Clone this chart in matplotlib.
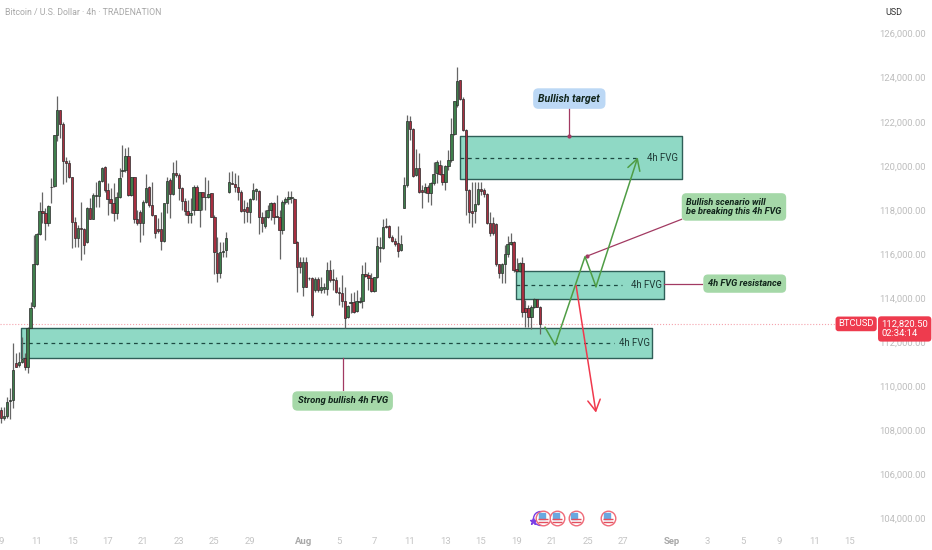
import numpy as np
import matplotlib
matplotlib.use('Agg')
import matplotlib.pyplot as plt
from matplotlib.transforms import offset_copy

plt.rcParams['font.family'] = ['Roboto', 'DejaVu Sans']

# 4h candles
opens = [108910, 108530, 108640, 109340, 109370, 111060, 110960, 111110, 111260, 110850,
         112650, 113630, 115540, 116890, 117960, 117840, 117420, 119020, 119080, 121400,
         122530, 121900, 120230, 120140, 119470, 117450, 116710, 117160, 117130, 116550,
         118080, 117600, 118630, 118630, 119320, 119930, 118900, 118480, 118320, 117870,
         118570, 119780, 119810, 120460, 118670, 119470, 117570, 117920, 117390, 118340,
         119020, 118200, 117760, 117110, 117110, 116600, 118290, 119350, 118700, 119690,
         119580, 118970, 118410, 117960, 117750, 117990, 119050, 117990, 118790, 118600,
         118570, 118750, 117690, 116050, 115120, 116100, 116180, 118790, 119230, 119170,
         119050, 118820, 118020, 118110, 117920, 118480, 118870, 118870, 117660, 117270,
         117690, 118000, 118320, 117720, 117690, 117080, 118370, 118480, 118520, 118480,
         116550, 115650, 114510, 115650, 114920, 114920, 114360, 114860, 114360, 114420,
         114420, 115270, 114840, 114810, 114270, 114210, 113880, 113120, 113750, 113800,
         113420, 113830, 113880, 115070, 115040, 114890, 114330, 114930, 116250, 116250,
         117270, 117270, 116780, 116600, 116480, 116180, 118070, 119110, 122020, 121650,
         119580, 119880, 118900, 118820, 119020, 118780, 119200, 119660, 120020, 119630,
         119280, 119990, 120260, 121440, 122760, 123890, 123010, 121620, 118900, 117960,
         117960, 118260, 118930, 118900, 118700, 117390, 117390, 117360, 115530, 115150,
         115530, 115980, 116450, 116550, 115300, 115240, 115600, 113530, 113530, 113150,
         113600, 113940, 113600]
highs = [109060, 109060, 109520, 109900, 111970, 111480, 111560, 112240, 111480, 112700,
         113830, 116860, 116930, 118370, 118790, 118070, 118200, 119430, 121400, 123180,
         122530, 122000, 120410, 120260, 119500, 117690, 117310, 118370, 117160, 118140,
         118520, 118750, 119280, 119350, 119930, 119990, 119200, 118970, 119200, 118820,
         119880, 120940, 120820, 120840, 119500, 119470, 118000, 118000, 118450, 119630,
         119080, 119250, 117760, 117610, 117920, 118320, 119500, 119430, 120190, 120260,
         119660, 119050, 118520, 118450, 118520, 119130, 119130, 118820, 118820, 119500,
         119350, 118780, 117760, 116780, 116550, 116550, 117010, 119730, 119760, 119660,
         119580, 118900, 118450, 118370, 118520, 119200, 118970, 118900, 117920, 118000,
         118220, 118370, 118370, 118670, 118000, 118450, 118570, 118870, 118870, 118520,
         116600, 115870, 115870, 115870, 114960, 114960, 114960, 114960, 114960, 114660,
         115650, 115720, 115300, 114960, 114510, 115040, 114510, 113680, 114210, 114280,
         114360, 114030, 115490, 115650, 115190, 115120, 114960, 116780, 116780, 117570,
         117610, 117310, 116860, 116710, 117270, 116860, 119470, 122300, 122260, 121700,
         120750, 120560, 119130, 119230, 119130, 119280, 120190, 120260, 120260, 120030,
         120030, 120710, 122150, 122950, 124470, 123890, 123140, 121650, 118930, 119280,
         119280, 119280, 119280, 118970, 118750, 117920, 117690, 117390, 115530, 115570,
         116400, 116810, 116960, 116580, 115800, 115650, 115840, 113910, 113680, 113680,
         113980, 113940, 113630]
lows = [108340, 108460, 108530, 108490, 108990, 110850, 110880, 111060, 110730, 110580,
        112620, 113530, 115490, 116860, 117390, 116630, 117280, 118290, 119050, 121140,
        121240, 119170, 119280, 119430, 116250, 116330, 116330, 115720, 116000, 116480,
        117570, 117570, 118140, 118140, 119280, 118820, 117760, 117840, 117510, 117570,
        118520, 119500, 119730, 118630, 118630, 117390, 117310, 116520, 116860, 118290,
        118140, 117720, 116710, 116930, 116180, 116550, 117870, 117610, 118670, 119500,
        118450, 118000, 117760, 117390, 117390, 117760, 117990, 117240, 117990, 117990,
        118520, 117690, 115090, 114740, 114890, 115870, 115870, 118750, 119170, 118820,
        118450, 117920, 117390, 117460, 117420, 118450, 118450, 116900, 117010, 117160,
        117610, 117540, 117360, 117690, 115770, 116900, 118260, 118260, 118290, 116480,
        114280, 115120, 114090, 114510, 114810, 113150, 114280, 114280, 114210, 114210,
        114130, 114740, 114360, 114210, 113680, 113600, 112620, 113070, 113300, 113330,
        113380, 113750, 113530, 114960, 114360, 114280, 114280, 114890, 115650, 116210,
        117160, 116710, 116550, 116360, 115870, 116150, 118070, 119050, 121170, 119500,
        119530, 118780, 118070, 118750, 118370, 118220, 119130, 119200, 119580, 119130,
        118900, 119810, 120190, 121400, 122680, 122980, 121590, 117760, 117390, 117240,
        117390, 118220, 118670, 118600, 117360, 116810, 116860, 115450, 114890, 114660,
        114660, 115870, 116400, 115190, 115160, 115190, 113150, 112700, 112700, 112580,
        113530, 113570, 112360]
closes = [108530, 108640, 109290, 109370, 110730, 110880, 111110, 111230, 110850, 112650,
          113530, 115540, 116890, 117960, 117840, 117420, 118170, 119050, 121400, 122530,
          121900, 120230, 120140, 119470, 117450, 116710, 117160, 117130, 116400, 118080,
          117600, 118670, 118670, 119320, 119910, 118900, 118480, 118320, 117870, 118570,
          119440, 119810, 120460, 118670, 119470, 117570, 117390, 117390, 118340, 118990,
          118200, 117760, 116960, 117050, 116600, 118290, 119320, 118700, 119690, 119580,
          118970, 118410, 117960, 117750, 117870, 119050, 117990, 118790, 118570, 118570,
          118700, 117690, 116100, 115120, 116100, 116150, 116740, 119250, 119170, 119050,
          118820, 117960, 117960, 117920, 118480, 118900, 118930, 117690, 117420, 117690,
          118000, 118320, 117690, 117690, 117080, 118370, 118480, 118570, 118600, 116480,
          115390, 115390, 115650, 114510, 114890, 113230, 114840, 114360, 114480, 114480,
          115270, 114810, 114810, 114280, 114210, 113880, 113070, 113630, 113800, 113380,
          113880, 113880, 115070, 115000, 114890, 114330, 114930, 116360, 116330, 117240,
          117210, 116780, 116600, 116430, 116150, 116430, 119110, 122050, 121650, 119530,
          119880, 118790, 118790, 119020, 118780, 119230, 119630, 120150, 119630, 119280,
          119990, 120260, 121430, 122950, 123860, 123010, 121620, 118900, 117920, 117870,
          118260, 118930, 118870, 118700, 117390, 116930, 116960, 115530, 115120, 115530,
          115980, 116430, 116550, 115270, 115210, 115600, 113350, 113350, 113150, 113600,
          113940, 113600, 112820]

last_price = 112820.50
price_ticks = list(range(104000, 127000, 2000))

# time axis labels
date_labels = ['9', '11', '15', '17', '21', '23', '25', '29', 'Aug', '5', '7', '11', '13', '15',
               '19', '21', '25', '27', 'Sep', '3', '5', '9', '11', '15']
date_pos = [0, 12, 24, 36, 48, 60, 72, 84, 102, 114, 126, 138, 150, 162, 174, 186, 198, 210,
            226.5, 238.5, 250.5, 262.5, 274.5, 286.5]

# 4h FVG zones
zone_left = [6.8, 173.8, 154.9]
zone_right = [219.7, 223.8, 229.8]
zone_top = [112650, 115240, 121340]
zone_bottom = [111260, 113950, 119400]
zone_mid = [111950, 114590, 120370]
zone_dash_end = [207, 209.5, 215.5]
zone_text_x = [218.9, 223, 228.6]

# scenario paths
bull_x = [183.6, 187, 197.1, 200.8, 214.9]
bull_y = [112666, 111865, 115874, 114512, 120383]
bear_x = [194.1, 200.8]
bear_y = [114558, 108793]

event_x = [182.8, 187.8, 193.9, 204.9]
event_y = 104000

fig = plt.figure(figsize=(9.32, 5.5), dpi=100)
ax = fig.add_axes([0, 19 / 550, 878 / 932, 531 / 550])
ax.set_xlim(-0.34, 295.98)
ax.set_ylim(103418, 127525)

for s in ax.spines.values():
    s.set_visible(False)

ax.yaxis.tick_right()
ax.set_yticks(price_ticks)
ax.set_yticklabels(['{:,.2f}'.format(p) for p in price_ticks])
ax.tick_params(axis='y', length=0, pad=1, labelsize=6.8, labelcolor='#bdbdbd')
ax.set_xticks(date_pos)
ax.set_xticklabels(date_labels)
ax.tick_params(axis='x', length=0, pad=4.5, labelsize=6.8, labelcolor='#c4c4c4')
for lab in ax.get_xticklabels():
    if lab.get_text() in ('Aug', 'Sep'):
        lab.set_color('#a8a8a8')
        lab.set_fontweight('bold')

# zones go under the candles
for i in range(3):
    ax.fill_between([zone_left[i], zone_right[i]], zone_bottom[i], zone_top[i],
                    facecolor='#8fd9c5', edgecolor='#2f5f58', linewidth=1, zorder=1)
    ax.plot([zone_left[i], zone_dash_end[i]], [zone_mid[i], zone_mid[i]],
            color='#1d4a42', lw=0.9, ls=(0, (3, 3)), zorder=1.5)
    ax.text(zone_text_x[i], zone_mid[i], '4h FVG', ha='right', va='center',
            fontsize=6.9, color='#1f3a36', zorder=6)

ax.axhline(last_price, xmax=837 / 878, color='#f5a3ad', lw=0.8, ls=':', zorder=1.8)

# candles
x = np.arange(len(opens))
o = np.array(opens)
c = np.array(closes)
colors = ['#3f7f4c' if c[i] >= o[i] else '#a72f40' for i in range(len(o))]
ax.vlines(x, lows, highs, color='#666666', lw=0.9, zorder=2)
ax.bar(x, np.abs(c - o), bottom=np.minimum(o, c), width=0.8, color=colors,
       edgecolor='#2a2a2a', linewidth=0.5, zorder=3)

# connector lines from the notes
link = '#a23a62'
ax.plot([191.8, 191.8], [122607, 121351], color=link, lw=0.9, zorder=4)
ax.plot([191.8], [121351], marker='o', ms=2, color=link, zorder=4)
ax.plot([229.7, 197.9], [117569, 115904], color=link, lw=0.9, zorder=4)
ax.plot([197.9], [115904], marker='o', ms=2, color=link, zorder=4)
ax.plot([223.8, 236.7], [114649, 114649], color=link, lw=0.9, zorder=4)
ax.plot([115.3, 115.3], [111260, 109821], color=link, lw=0.9, zorder=4)

# scenario arrows
ax.plot(bull_x[:-1], bull_y[:-1], color='#4f9d45', lw=1.1, zorder=5)
ax.annotate('', xy=(bull_x[-1], bull_y[-1]), xytext=(bull_x[-2], bull_y[-2]), zorder=5,
            arrowprops=dict(arrowstyle='->,head_length=0.8,head_width=0.45', color='#4f9d45',
                            lw=1.1, mutation_scale=10, shrinkA=0, shrinkB=0))
ax.annotate('', xy=(bear_x[1], bear_y[1]), xytext=(bear_x[0], bear_y[0]), zorder=5,
            arrowprops=dict(arrowstyle='->,head_length=0.8,head_width=0.45', color='#f0394d',
                            lw=1.1, mutation_scale=10, shrinkA=0, shrinkB=0))

# notes
note = dict(fontweight='bold', style='italic', color='#10241a', zorder=7)
ax.text(191.8, 123050, 'Bullish target', ha='center', va='center', fontsize=7.6,
        bbox=dict(boxstyle='round,pad=0.5', fc='#bcd8f5', ec='none'), **note)
ax.text(231.3, 118130, 'Bullish scenario will\nbe breaking this 4h FVG', ha='left', va='center',
        fontsize=6.6, linespacing=1.05, bbox=dict(boxstyle='round,pad=0.5', fc='#a5d8a8', ec='none'), **note)
ax.text(251, 114649, '4h FVG resistance', ha='center', va='center', fontsize=6.7,
        bbox=dict(boxstyle='round,pad=0.5', fc='#a5d8a8', ec='none'), **note)
ax.text(115.3, 109320, 'Strong bullish 4h FVG', ha='center', va='center', fontsize=6.8,
        bbox=dict(boxstyle='round,pad=0.55', fc='#a5d8a8', ec='none'), **note)

# title and currency
ax.text(1.4, 127150, 'Bitcoin / U.S. Dollar · 4h · TRADENATION', ha='left', va='top',
        fontsize=6.3, color='#a8a8a8')
ax.text(301.3, 127150, 'USD', ha='center', va='top', fontsize=6.5, color='#333333', clip_on=False)

# last price tags
ax.text(288.6, last_price, 'BTCUSD', ha='center', va='center', fontsize=6.8, color='white', zorder=8,
        bbox=dict(boxstyle='round,pad=0.3', fc='#ee3b4e', ec='none'))
ax.text(297.1, last_price - 230, '112,820.50\n02:34:14', ha='left', va='center', fontsize=6.8,
        color='white', zorder=8, linespacing=1.1, multialignment='left',
        bbox=dict(boxstyle='round,pad=0.35', fc='#ee3b4e', ec='none'))

# event flags along the bottom
ax.plot([179.5], [event_y - 120], marker='*', ms=5, color='#7b3fe4', ls='none', zorder=5)
ax.plot([event_x[0] - 0.8], [event_y], marker='o', ms=10, mfc='none', mec='#7b3fe4', mew=1,
        ls='none', zorder=5)
for ex in event_x:
    ax.plot([ex], [event_y], marker='o', ms=10.5, mfc='white', mec='#ef6a78', mew=1, ls='none', zorder=6)
    t = offset_copy(ax.transData, fig=fig, x=-0.8, y=1.4, units='points')
    ax.plot([ex], [event_y], marker='s', ms=4.3, color='#6aa8e0', ls='none', transform=t, zorder=7)
    for dy in (-0.8, -2.6):
        t = offset_copy(ax.transData, fig=fig, x=0, y=dy, units='points')
        ax.plot([ex], [event_y], marker='_', ms=7, mew=1, color='#e2505f', ls='none', transform=t, zorder=7)

fig.savefig('out.png', dpi=100)
